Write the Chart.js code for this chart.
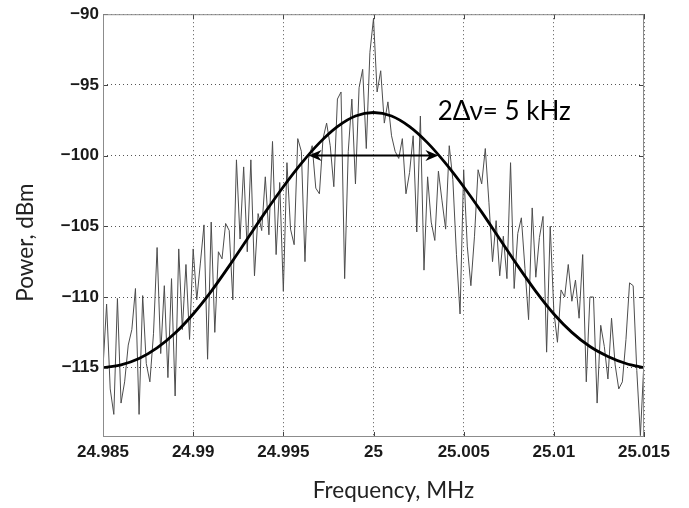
<!DOCTYPE html>
<html>
<head>
<meta charset="utf-8">
<script src="https://cdn.jsdelivr.net/npm/chart.js@4.4.0/dist/chart.umd.min.js"></script>
<style>
  html, body { margin: 0; padding: 0; background: #fff; }
</style>
</head>
<body>
<canvas id="spectrum" width="689" height="508"></canvas>
<script>
// axis ticks
const xTicks = [24.985, 24.99, 24.995, 25, 25.005, 25.01, 25.015];
const xTickLabels = ['24.985', '24.99', '24.995', '25', '25.005', '25.01', '25.015'];
const yTicks = [-115, -110, -105, -100, -95, -90];
const xTitle = 'Frequency, MHz';
const yTitle = 'Power, dBm';

// measured spectrum, one sample every 0.2 kHz from 24.985 MHz
const noiseStart = 24.985;
const noiseStep = 0.0002;
const noisePower = [
  -115, -110.5, -116.5, -118.3, -110.1, -117.5, -116, -113.4, -112.3, -109.4,
  -118.3, -109.9, -114.7, -116, -112.6, -106.5, -114, -109.2, -115.7, -108.7,
  -117, -106.6, -112.3, -107.7, -113, -106.6, -110.2, -107.6, -104.9, -114.4,
  -104.7, -112.5, -106.8, -107.3, -104.8, -105.3, -110.2, -100.3, -105.9, -100.8,
  -106.8, -100.3, -108.5, -104.1, -105.3, -101.5, -105.6, -99, -107, -101.9,
  -109.6, -100.5, -105.2, -106.3, -98.8, -99.7, -107.5, -100.2, -99.3, -102.3,
  -102.7, -98.8, -97.7, -99.3, -102.2, -96, -95.5, -108.7, -99.7, -96,
  -102, -95.2, -93.9, -99.5, -92.7, -90.3, -95.5, -94, -97.7, -96.2,
  -98.6, -99.7, -100.2, -98.8, -102.7, -101.2, -98.6, -105.4, -97.2, -108.1,
  -101.5, -104.7, -106, -101.1, -103.2, -105.2, -99.3, -101.7, -107, -111.2,
  -101, -106.4, -109.2, -105.7, -101, -102, -99.5, -103.3, -107.5, -104.6,
  -108.5, -105.7, -108.7, -100.5, -109.4, -105.5, -104.4, -108, -111.6, -103.7,
  -108.6, -105.8, -104.3, -113.9, -105, -111, -113.2, -109.5, -110, -107.7,
  -110.3, -108.8, -111.5, -107, -116, -110, -110, -117.5, -112, -113.5,
  -115.8, -111.5, -114.8, -116.5, -116, -113, -109, -109.2, -115.2, -119.8,
  -114.5
];

// fitted line shape
const fitFreq = [
  24.985, 24.986, 24.987, 24.988, 24.989, 24.99, 24.991, 24.992, 24.993, 24.994,
  24.995, 24.996, 24.997, 24.998, 24.999, 25, 25.001, 25.002, 25.003, 25.004,
  25.005, 25.006, 25.007, 25.008, 25.009, 25.01, 25.011, 25.012, 25.013, 25.014,
  25.015
];
const fitPower = [
  -115, -114.8, -114.35, -113.6, -112.55, -111.2, -109.6, -107.8, -105.9, -104,
  -102.2, -100.55, -99.1, -97.95, -97.2, -96.95, -97.2, -97.95, -99.1, -100.55,
  -102.2, -104, -105.9, -107.8, -109.6, -111.2, -112.5, -113.5, -114.2, -114.7,
  -115
];

// linewidth marker
const arrowFrom = 24.9964;
const arrowTo = 25.0036;
const arrowLevel = -100;
const noteText = '2\u0394\u03bd= 5 kHz';
const noteFreq = 25.00356;
const notePower = -97.5;

const noisePoints = noisePower.map((p, i) => ({ x: noiseStart + i * noiseStep, y: p }));
const fitPoints = fitFreq.map((f, i) => ({ x: f, y: fitPower[i] }));

const boxAndNotes = {
  id: 'boxAndNotes',
  afterDatasetsDraw(chart) {
    const { ctx, chartArea: a, scales: { x, y } } = chart;
    ctx.save();

    // matlab style inward ticks on every side
    ctx.strokeStyle = '#444';
    ctx.lineWidth = 1;
    ctx.beginPath();
    xTicks.forEach(v => {
      const px = Math.round(x.getPixelForValue(v)) + 0.5;
      ctx.moveTo(px, a.bottom); ctx.lineTo(px, a.bottom - 5);
      ctx.moveTo(px, a.top); ctx.lineTo(px, a.top + 5);
    });
    yTicks.forEach(v => {
      const py = Math.round(y.getPixelForValue(v)) + 0.5;
      ctx.moveTo(a.left, py); ctx.lineTo(a.left + 5, py);
      ctx.moveTo(a.right, py); ctx.lineTo(a.right - 5, py);
    });
    ctx.stroke();

    ctx.strokeStyle = '#8c8c8c';
    ctx.strokeRect(a.left + 0.5, a.top + 0.5, a.width - 1, a.height - 1);

    // double arrow
    const x1 = x.getPixelForValue(arrowFrom);
    const x2 = x.getPixelForValue(arrowTo);
    const ay = y.getPixelForValue(arrowLevel);
    ctx.strokeStyle = '#000';
    ctx.fillStyle = '#000';
    ctx.lineWidth = 2;
    ctx.beginPath();
    ctx.moveTo(x1 + 8, ay); ctx.lineTo(x2 - 8, ay);
    ctx.stroke();
    [[x1, 1], [x2, -1]].forEach(([tip, dir]) => {
      ctx.beginPath();
      ctx.moveTo(tip, ay);
      ctx.lineTo(tip + dir * 13, ay - 5.5);
      ctx.lineTo(tip + dir * 9, ay);
      ctx.lineTo(tip + dir * 13, ay + 5.5);
      ctx.closePath();
      ctx.fill();
    });

    ctx.font = '26px Lato';
    ctx.textAlign = 'left';
    ctx.textBaseline = 'alphabetic';
    ctx.fillText(noteText, x.getPixelForValue(noteFreq), y.getPixelForValue(notePower));

    // axis titles, set a little off centre as in the original figure
    ctx.fillStyle = '#222';
    ctx.font = '22.5px Lato';
    ctx.textAlign = 'center';
    ctx.fillText(xTitle, (a.left + a.right) / 2 + 20, a.bottom + 61);
    ctx.translate(a.left - 70, (a.top + a.bottom) / 2 + 17);
    ctx.rotate(-Math.PI / 2);
    ctx.fillText(yTitle, 0, 0);
    ctx.restore();
  }
};

const tickFont = { family: '"Liberation Sans", Arial, sans-serif', size: 17, weight: 'bold' };

new Chart(document.getElementById('spectrum'), {
  type: 'line',
  data: {
    datasets: [
      {
        data: fitPoints,
        borderColor: '#000',
        borderWidth: 2.8,
        pointRadius: 0,
        cubicInterpolationMode: 'monotone'
      },
      {
        data: noisePoints,
        borderColor: '#4d4d4d',
        borderWidth: 1,
        pointRadius: 0,
        tension: 0
      }
    ]
  },
  options: {
    responsive: false,
    animation: false,
    devicePixelRatio: 1,
    layout: { padding: { top: 11, right: 45, left: 0, bottom: 0 } },
    plugins: { legend: { display: false }, tooltip: { enabled: false } },
    scales: {
      x: {
        type: 'linear',
        min: 24.985,
        max: 25.015,
        afterBuildTicks: s => { s.ticks = xTicks.map(v => ({ value: v })); },
        afterFit: s => { s.height = 71; },
        grid: { color: '#555', drawTicks: false },
        border: { display: false, dash: [1, 3] },
        ticks: {
          font: tickFont,
          color: '#1a1a1a',
          padding: 5,
          maxRotation: 0,
          callback: (v, i) => xTickLabels[i]
        }
      },
      y: {
        min: -119.9,
        max: -90,
        afterBuildTicks: s => { s.ticks = yTicks.map(v => ({ value: v })); },
        afterFit: s => { s.width = 103; },
        grid: { color: '#555', drawTicks: false },
        border: { display: false, dash: [1, 3] },
        ticks: {
          font: tickFont,
          color: '#1a1a1a',
          padding: 4,
          callback: v => String(v).replace('-', '\u2212')
        }
      }
    }
  },
  plugins: [boxAndNotes]
});
</script>
</body>
</html>
